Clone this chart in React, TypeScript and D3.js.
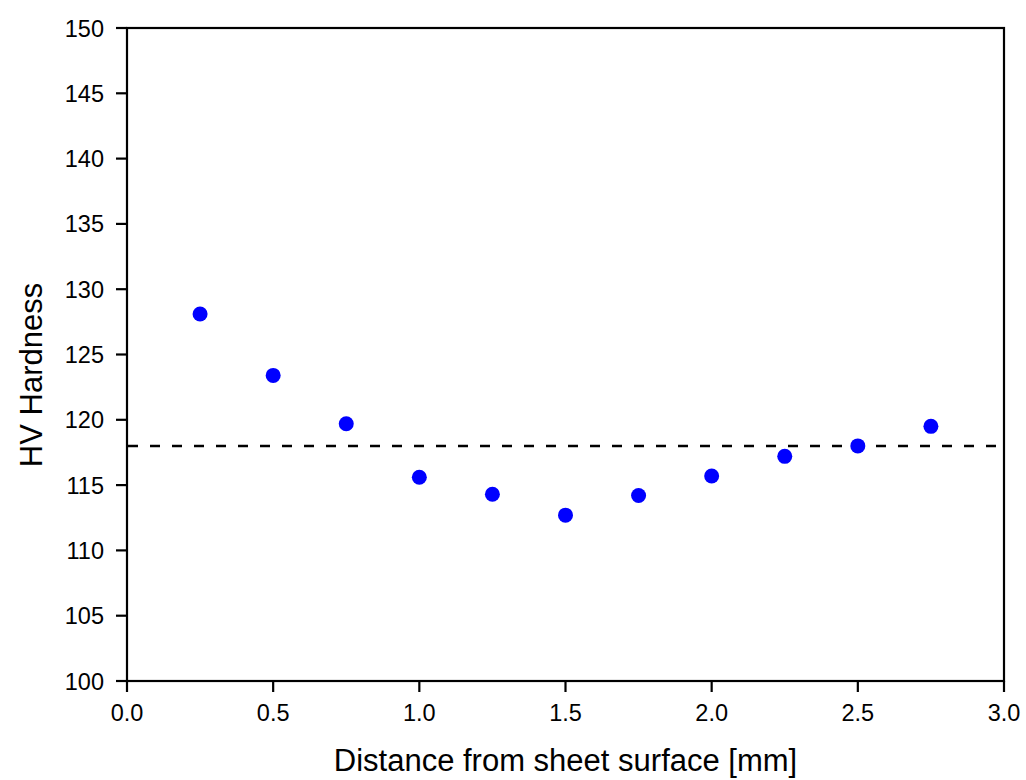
import React from "react";
import * as d3 from "d3";

const distances = [0.25, 0.5, 0.75, 1.0, 1.25, 1.5, 1.75, 2.0, 2.25, 2.5, 2.75];
const hardness = [128.1, 123.4, 119.7, 115.6, 114.3, 112.7, 114.2, 115.7, 117.2, 118.0, 119.5];
const referenceHardness = 118;
const xTicks = [0, 0.5, 1.0, 1.5, 2.0, 2.5, 3.0];
const yTicks = [100, 105, 110, 115, 120, 125, 130, 135, 140, 145, 150];

const W = 1026;
const H = 780;
const M = { left: 127, right: 1004, top: 28, bottom: 681 };
const FONT = "'Liberation Sans', Arial, sans-serif";

export default function App() {
  const x = d3.scaleLinear().domain([0, 3]).range([M.left, M.right]);
  const y = d3.scaleLinear().domain([100, 150]).range([M.bottom, M.top]);
  const tick = 11;
  return (
    <svg
      width={W}
      height={H}
      style={{ position: "absolute", left: 0, top: 0, background: "#fff" }}
      fontFamily={FONT}
    >
      <rect x={0} y={0} width={W} height={H} fill="#fff" />
      {/* reference dashed line */}
      <line
        x1={x(0) + 1}
        x2={x(3)}
        y1={y(referenceHardness)}
        y2={y(referenceHardness)}
        stroke="#000"
        strokeWidth={2.5}
        strokeDasharray="10,12"
      />
      {/* points */}
      {distances.map((d, i) => (
        <circle key={i} cx={x(d)} cy={y(hardness[i])} r={7.5} fill="#0000ff" />
      ))}
      {/* frame */}
      <rect
        x={M.left}
        y={M.top}
        width={M.right - M.left}
        height={M.bottom - M.top}
        fill="none"
        stroke="#000"
        strokeWidth={2.2}
      />
      {/* x ticks */}
      {xTicks.map((t) => (
        <g key={t}>
          <line x1={x(t)} x2={x(t)} y1={M.bottom} y2={M.bottom + tick} stroke="#000" strokeWidth={2.2} />
          <text x={x(t)} y={721} textAnchor="middle" fontSize={23.5} fill="#000">
            {d3.format(".1f")(t)}
          </text>
        </g>
      ))}
      {/* y ticks */}
      {yTicks.map((t) => (
        <g key={t}>
          <line x1={M.left - tick} x2={M.left} y1={y(t)} y2={y(t)} stroke="#000" strokeWidth={2.2} />
          <text x={104} y={y(t) + 8.5} textAnchor="end" fontSize={23.5} fill="#000">
            {t}
          </text>
        </g>
      ))}
      <text x={(M.left + M.right) / 2} y={771} textAnchor="middle" fontSize={31} fill="#000">
        Distance from sheet surface [mm]
      </text>
      <text
        transform={`translate(42, 375) rotate(-90)`}
        textAnchor="middle"
        fontSize={31}
        fill="#000"
      >
        HV Hardness
      </text>
    </svg>
  );
}
